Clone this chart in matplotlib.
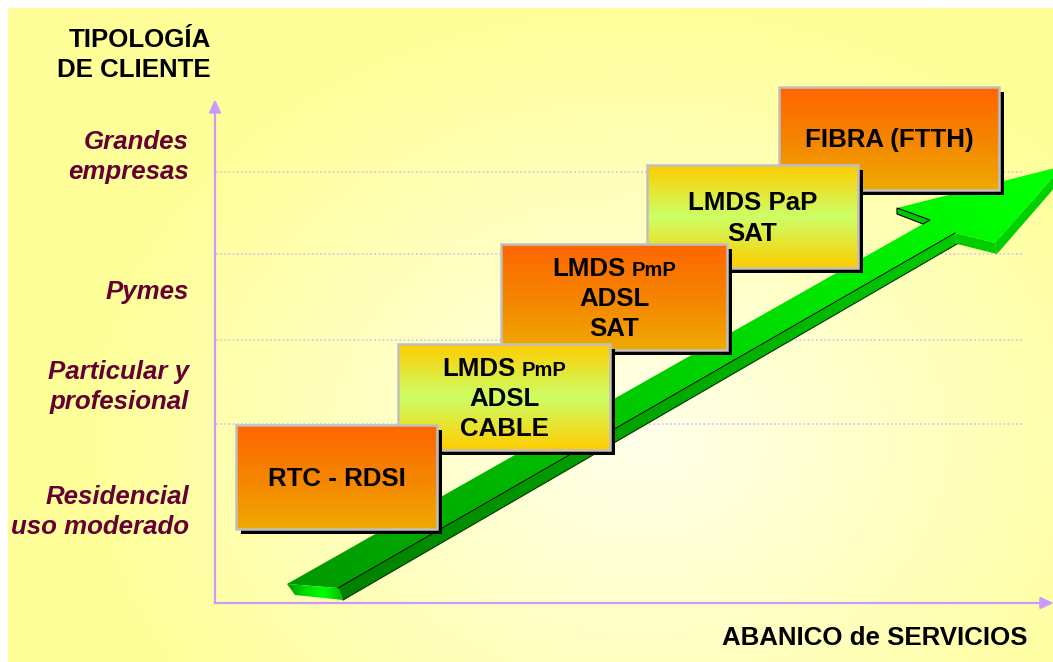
import numpy as np
import matplotlib
matplotlib.use('Agg')
import matplotlib.pyplot as plt
from matplotlib.patches import Polygon, Rectangle
from matplotlib.colors import LinearSegmentedColormap

plt.rcParams['font.family'] = ['Liberation Sans', 'DejaVu Sans']

W, H = 1053, 662

# tipologia de cliente (eje vertical), de arriba a abajo
client_types = ['Grandes\nempresas', 'Pymes', 'Particular y\nprofesional', 'Residencial\nuso moderado']
client_y = [157, 292, 387, 512]
grid_y = [172, 254, 340, 424]

# servicios (cajas), de abajo a arriba
services = [
    ['RTC - RDSI'],
    ['LMDS PmP', 'ADSL', 'CABLE'],
    ['LMDS PmP', 'ADSL', 'SAT'],
    ['LMDS PaP', 'SAT'],
    ['FIBRA (FTTH)'],
]
box_x0 = [236, 398, 501, 647, 779]
box_y0 = [425, 344, 244, 165, 87]
box_x1 = [437, 610, 727, 858, 999]
box_y1 = [529, 450, 350, 268, 190]
box_kind = ['orange', 'lime', 'orange', 'lime', 'orange']

y_title = 'TIPOLOGÍA\nDE CLIENTE'
x_title = 'ABANICO de SERVICIOS'

FS = 18.6

fig = plt.figure(figsize=(W / 100, H / 100), dpi=100, facecolor='white')
ax = fig.add_axes([0, 0, 1, 1])
ax.axis('off')

# fondo amarillo con degradado desde el centro
xx, yy = np.meshgrid(np.linspace(8, W, 300), np.linspace(8, H, 200))
r = np.sqrt(((xx - 640) / 560) ** 2 + ((yy - 440) / 440) ** 2)
r = np.clip(r, 0, 1)
bg = np.zeros(xx.shape + (3,))
bg[..., 0] = 1.0
bg[..., 1] = 1.0
bg[..., 2] = (235 - (235 - 153) * r) / 255
ax.imshow(bg, extent=(8, W, H, 8), origin='upper', aspect='auto', zorder=0, interpolation='bilinear')

# lineas de referencia punteadas
for gy in grid_y:
    ax.plot([216, 1022], [gy, gy], color='#D4C2E4', lw=1.2, ls=(0, (1, 1.5)), zorder=1)

# ejes
axc = '#CC99FF'
ax.plot([215, 215], [603, 112], color=axc, lw=1.6, zorder=2)
ax.plot([215, 1041], [603, 603], color=axc, lw=1.6, zorder=2)
ax.add_patch(Polygon([(209.5, 113), (220.5, 113), (215, 101)], closed=True, color=axc, zorder=2))
ax.add_patch(Polygon([(1040, 597.5), (1040, 608.5), (1052, 603)], closed=True, color=axc, zorder=2))

# flecha verde 3D
top_face = [(287, 584), (930, 220), (897, 208), (1063, 166), (995, 243), (955, 233), (338, 588)]
side_faces = [
    [(338, 588), (955, 233), (957, 244), (343, 600)],
    [(955, 233), (995, 243), (997, 254), (957, 244)],
    [(995, 243), (1063, 166), (1063, 178), (997, 254)],
    [(897, 208), (930, 220), (923, 224), (897, 214)],
]
tail_face = [(287, 584), (338, 588), (343, 600), (295, 595)]

ax_x, ax_y = np.meshgrid(np.linspace(280, 1070, 400), np.linspace(160, 605, 240))
t = ((ax_x - 300) * 700 + (ax_y - 590) * -390) / (700 ** 2 + 390 ** 2)
t = np.clip(t, 0, 1)
green_img = np.zeros(ax_x.shape + (3,))
green_img[..., 1] = (153 + (255 - 153) * t) / 255
side_img = green_img * np.array([1, 0.82, 1])


def clipped_image(img, poly, z):
    patch = Polygon(poly, closed=True, transform=ax.transData, facecolor='none', edgecolor='none')
    im = ax.imshow(img, extent=(280, 1070, 605, 160), origin='upper', aspect='auto',
                   zorder=z, interpolation='bilinear')
    im.set_clip_path(patch)


clipped_image(green_img, top_face, 3)
for sf in side_faces:
    clipped_image(side_img, sf, 3)

tail_x = np.linspace(0, 1, 100).reshape(1, -1)
tail_cmap = LinearSegmentedColormap.from_list('tail', ['#009900', '#00DD00', '#00FF00', '#00BB00'])
tail_patch = Polygon(tail_face, closed=True, transform=ax.transData, facecolor='none', edgecolor='none')
tim = ax.imshow(tail_x, cmap=tail_cmap, extent=(287, 343, 600, 584), origin='upper', aspect='auto',
                zorder=3, interpolation='bilinear')
tim.set_clip_path(tail_patch)

ax.plot([338, 955], [588, 233], color='black', lw=0.7, zorder=4)
ax.plot([343, 957], [600, 244], color='#003300', lw=0.8, zorder=4)
ax.add_patch(Polygon(side_faces[3], closed=True, facecolor='none', edgecolor='black', lw=0.8, zorder=4))

# cajas de servicios
cmaps = {
    'orange': LinearSegmentedColormap.from_list('orange', ['#FF6600', '#F58400', '#EEAA00']),
    'lime': LinearSegmentedColormap.from_list('lime', ['#FFCC00', '#CCFF66', '#FFCC00']),
}
grad = np.linspace(0, 1, 256).reshape(-1, 1)
n = len(services)
for i in range(n - 1, -1, -1):
    x0, y0, x1, y1 = box_x0[i], box_y0[i], box_x1[i], box_y1[i]
    z = 10 + (n - i) * 2
    ax.add_patch(Rectangle((x0 + 5, y0 + 5), x1 - x0, y1 - y0, facecolor='black', edgecolor='none', zorder=z))
    ax.imshow(grad, cmap=cmaps[box_kind[i]], extent=(x0, x1, y1, y0), origin='upper', aspect='auto',
              zorder=z + 1, interpolation='bilinear')
    ax.add_patch(Rectangle((x0, y0), x1 - x0, y1 - y0, facecolor='none', edgecolor='#C0C0C0', lw=1.8, zorder=z + 1))

    cx = (x0 + x1) / 2
    cy = (y0 + y1) / 2
    lines = services[i]
    step = 30.5
    for k, line in enumerate(lines):
        ly = cy + (k - (len(lines) - 1) / 2) * step
        base = ly + 9
        if line.endswith('PmP'):
            ax.text(cx + 12, base, 'LMDS', ha='right', va='baseline', fontsize=FS,
                    fontweight='bold', zorder=z + 1)
            ax.text(cx + 18, base, 'PmP', ha='left', va='baseline', fontsize=14.5,
                    fontweight='bold', zorder=z + 1)
        else:
            ax.text(cx, base, line, ha='center', va='baseline', fontsize=FS,
                    fontweight='bold', zorder=z + 1)

# textos de los ejes
for lab, cy in zip(client_types, client_y):
    ax.text(189, cy, lab, ha='right', va='center', multialignment='right', fontsize=FS,
            fontweight='bold', fontstyle='italic', color='#660033', linespacing=1.27, zorder=5)

ax.text(211, 55, y_title, ha='right', va='center', multialignment='right', fontsize=FS,
        fontweight='bold', color='black', linespacing=1.27, zorder=5)
ax.text(1028, 638, x_title, ha='right', va='center', fontsize=FS, fontweight='bold',
        color='black', zorder=5)

ax.set_xlim(0, W)
ax.set_ylim(H, 0)

fig.savefig('out.png', dpi=100, facecolor='white')
